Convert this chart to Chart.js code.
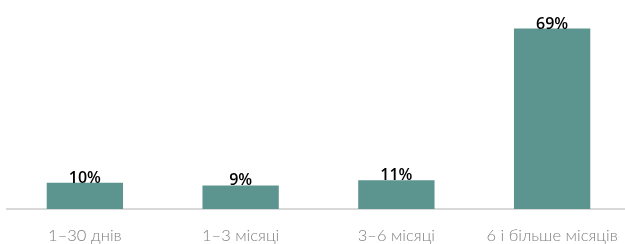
<!DOCTYPE html>
<html>
<head>
<meta charset="utf-8">
<script src="https://cdn.jsdelivr.net/npm/chart.js@4.4.0/dist/chart.umd.min.js"></script>
<style>
  html, body { margin: 0; padding: 0; background: #fff; overflow: hidden; }
  #wrap { width: 630px; height: 244px; }
</style>
</head>
<body>
<div id="wrap"><canvas id="chart"></canvas></div>
<script>
/* ------------------------------
   DATA
------------------------------ */
const categories = ["1–30 днів", "1–3 місяці", "3–6 місяці", "6 і більше місяців"];
const shares = [10, 9, 11, 69];
const valueLabels = ["10%", "9%", "11%", "69%"];

/* ------------------------------
   VALUE LABELS ABOVE BARS
------------------------------ */
const barLabels = {
  id: "barLabels",
  afterDatasetsDraw(chart) {
    const { ctx } = chart;
    const meta = chart.getDatasetMeta(0);
    ctx.save();
    ctx.font = "600 16px 'Open Sans'";
    ctx.fillStyle = "#000";
    ctx.textAlign = "center";
    ctx.textBaseline = "alphabetic";
    meta.data.forEach((bar, i) => {
      ctx.fillText(valueLabels[i], bar.x, bar.y);
    });
    ctx.restore();
  }
};

/* ------------------------------
   CHART
------------------------------ */
const ctx = document.getElementById("chart");
new Chart(ctx, {
  type: "bar",
  data: {
    labels: categories,
    datasets: [{
      data: shares,
      backgroundColor: "#5c958f",
      categoryPercentage: 1,
      barPercentage: 0.49
    }]
  },
  options: {
    responsive: true,
    maintainAspectRatio: false,
    animation: false,
    layout: { padding: { left: 7, right: 0, top: 26, bottom: 0 } },
    plugins: { legend: { display: false }, tooltip: { enabled: false } },
    scales: {
      x: {
        grid: { display: false },
        border: { display: true, color: "#d9d9d9", width: 2 },
        ticks: {
          color: "#7f7f7f",
          padding: 9,
          maxRotation: 0,
          font: { family: "Lato", size: 16.5, weight: 300 }
        },
        afterFit(scale) { scale.height = 35; }
      },
      y: {
        display: false,
        min: 0,
        max: 70
      }
    }
  },
  plugins: [barLabels]
});
</script>
</body>
</html>
